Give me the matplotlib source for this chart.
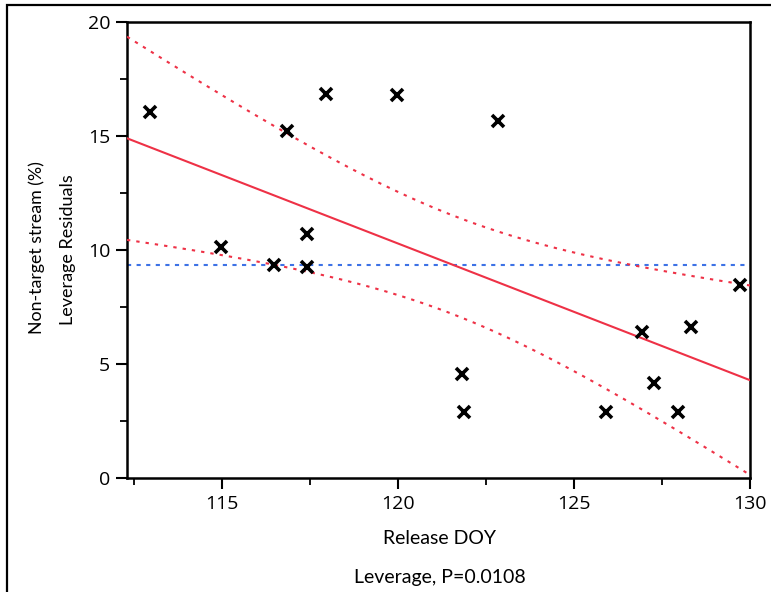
import numpy as np
import matplotlib
matplotlib.use("Agg")
import matplotlib.pyplot as plt
from matplotlib.patches import Rectangle
from matplotlib.ticker import MultipleLocator

# Release day of year and non-target stream percentage (leverage residuals)
release_doy = [112.95, 114.97, 116.48, 116.85, 117.41, 117.41, 117.95, 119.97,
               121.82, 121.88, 122.84, 125.91, 126.93, 127.27, 127.95, 128.32, 129.72]
nontarget_pct = [16.05, 10.13, 9.34, 15.22, 10.70, 9.25, 16.84, 16.80,
                 4.56, 2.89, 15.66, 2.89, 6.40, 4.17, 2.89, 6.62, 8.46]
x_ticks = [115, 120, 125, 130]
y_ticks = [0, 5, 10, 15, 20]
p_value_text = "Leverage, P=0.0108"

x = np.asarray(release_doy)
y = np.asarray(nontarget_pct)
n = len(x)

# Least-squares fit and 95% confidence curves for the fitted line
slope, intercept = np.polyfit(x, y, 1)
resid = y - (intercept + slope * x)
s = np.sqrt(np.sum(resid ** 2) / (n - 2))
t_crit = 2.131  # t(0.975, df=15)
sxx = np.sum((x - x.mean()) ** 2)

xmin, xmax = 112.3, 130.0
xs = np.linspace(xmin, xmax, 300)
fit = intercept + slope * xs
half = t_crit * s * np.sqrt(1.0 / n + (xs - x.mean()) ** 2 / sxx)

red = "#ee3146"
blue = "#3d72e6"

fig = plt.figure(figsize=(7.71, 5.92), dpi=100)
ax = fig.add_axes([127 / 771, 1 - 478 / 592, (750 - 127) / 771, (478 - 22) / 592])

ax.plot(xs, fit, color=red, lw=1.5, zorder=3)
ax.plot(xs, fit + half, color=red, lw=1.5, dashes=(1.6, 2.9), zorder=3)
ax.plot(xs, fit - half, color=red, lw=1.5, dashes=(1.6, 2.9), zorder=3)
ax.axhline(y.mean(), color=blue, lw=1.5, dashes=(2, 2.6), zorder=2)

ax.plot(x, y, linestyle="none", marker="x", markersize=9, mew=2.6,
        color="black", zorder=4)

ax.set_xlim(xmin, xmax)
ax.set_ylim(0, 20)
ax.set_xticks(x_ticks)
ax.set_yticks(y_ticks)
ax.xaxis.set_minor_locator(MultipleLocator(2.5))
ax.yaxis.set_minor_locator(MultipleLocator(2.5))
ax.tick_params(which="major", direction="out", length=8, width=1.5,
               labelsize=14, pad=4)
ax.tick_params(which="minor", direction="out", length=5, width=1.3)
for lab in ax.get_xticklabels() + ax.get_yticklabels():
    lab.set_fontfamily("Open Sans")
for sp in ax.spines.values():
    sp.set_linewidth(1.8)
    sp.set_color("black")

# Two-line y label: response name over "Leverage Residuals"
fig.text(37 / 771, 1 - 248 / 592, "Non-target stream (%)", rotation=90,
         ha="center", va="center", fontfamily="Lato", fontsize=12.8)
fig.text(68 / 771, 1 - 250 / 592, "Leverage Residuals", rotation=90,
         ha="center", va="center", fontfamily="Lato", fontsize=13)

fig.text((127 + 750) / 2 / 771 + 1 / 771, 1 - 539 / 592, "Release DOY",
         ha="center", va="center", fontfamily="Lato", fontsize=14)
fig.text((127 + 750) / 2 / 771 + 1 / 771, 1 - 577 / 592, p_value_text,
         ha="center", va="center", fontfamily="Lato", fontsize=14)

# Outer report frame
fig.patches.append(Rectangle((7 / 771, -0.1), 1.2, 1 - 5 / 592 + 0.1,
                             transform=fig.transFigure, fill=False,
                             edgecolor="black", lw=1.6))

fig.savefig("out.png", dpi=100)
